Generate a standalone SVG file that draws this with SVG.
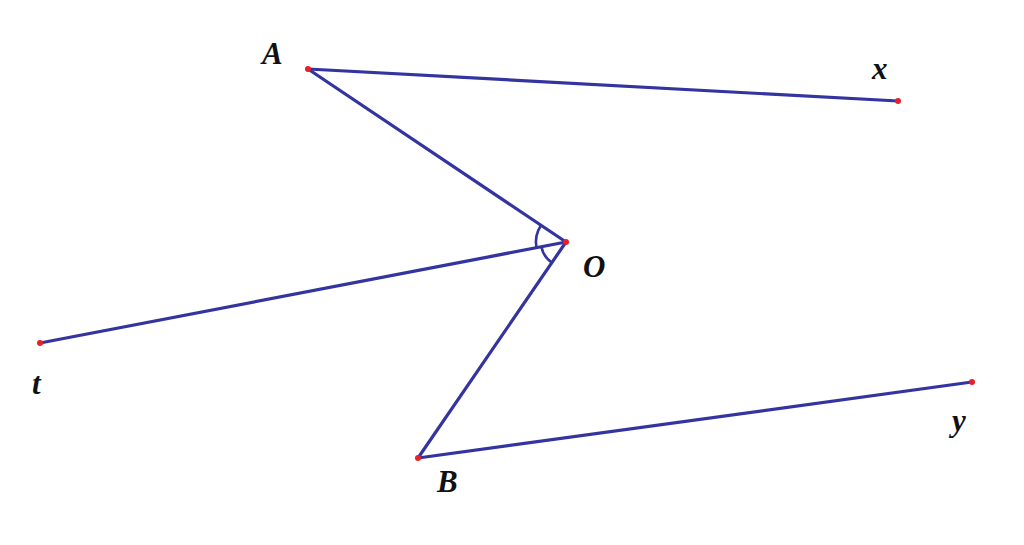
<svg xmlns="http://www.w3.org/2000/svg" width="1024" height="545" viewBox="0 0 1024 545">
<style>
.seg{stroke:#3434a0;stroke-width:3.2;fill:none;stroke-linecap:round}
.arc{stroke:#3434a0;stroke-width:2.6;fill:none}
.pt{fill:#e8202a}
.lbl{font-family:"Liberation Serif",serif;font-style:italic;font-weight:bold;font-size:31px;fill:#111}
</style>
<rect width="1024" height="545" fill="#fff"/>
<g id="connectors">
<line class="seg" x1="308" y1="69" x2="898" y2="101"/>
<line class="seg" x1="308" y1="69" x2="566" y2="242"/>
<line class="seg" x1="40" y1="343" x2="566" y2="242"/>
<line class="seg" x1="418" y1="458" x2="566" y2="242"/>
<line class="seg" x1="418" y1="458" x2="972" y2="382"/>
<path class="arc" d="M541.1 225.3 A30 30 0 0 0 536.5 247.7"/>
<path class="arc" d="M541.4 246.7 A25 25 0 0 0 551.9 262.6"/>
</g>
<g id="A"><circle class="pt" cx="308" cy="69" r="3"/><text class="lbl" x="262" y="64">A</text></g>
<g id="x"><circle class="pt" cx="898" cy="101" r="3"/><text class="lbl" x="872" y="79">x</text></g>
<g id="O"><circle class="pt" cx="566" cy="242" r="3"/><text class="lbl" x="583" y="277">O</text></g>
<g id="t"><circle class="pt" cx="40" cy="343" r="3"/><text class="lbl" x="32" y="394">t</text></g>
<g id="B"><circle class="pt" cx="418" cy="458" r="3"/><text class="lbl" x="437" y="492">B</text></g>
<g id="y"><circle class="pt" cx="972" cy="382" r="3"/><text class="lbl" x="952" y="431">y</text></g>
</svg>
